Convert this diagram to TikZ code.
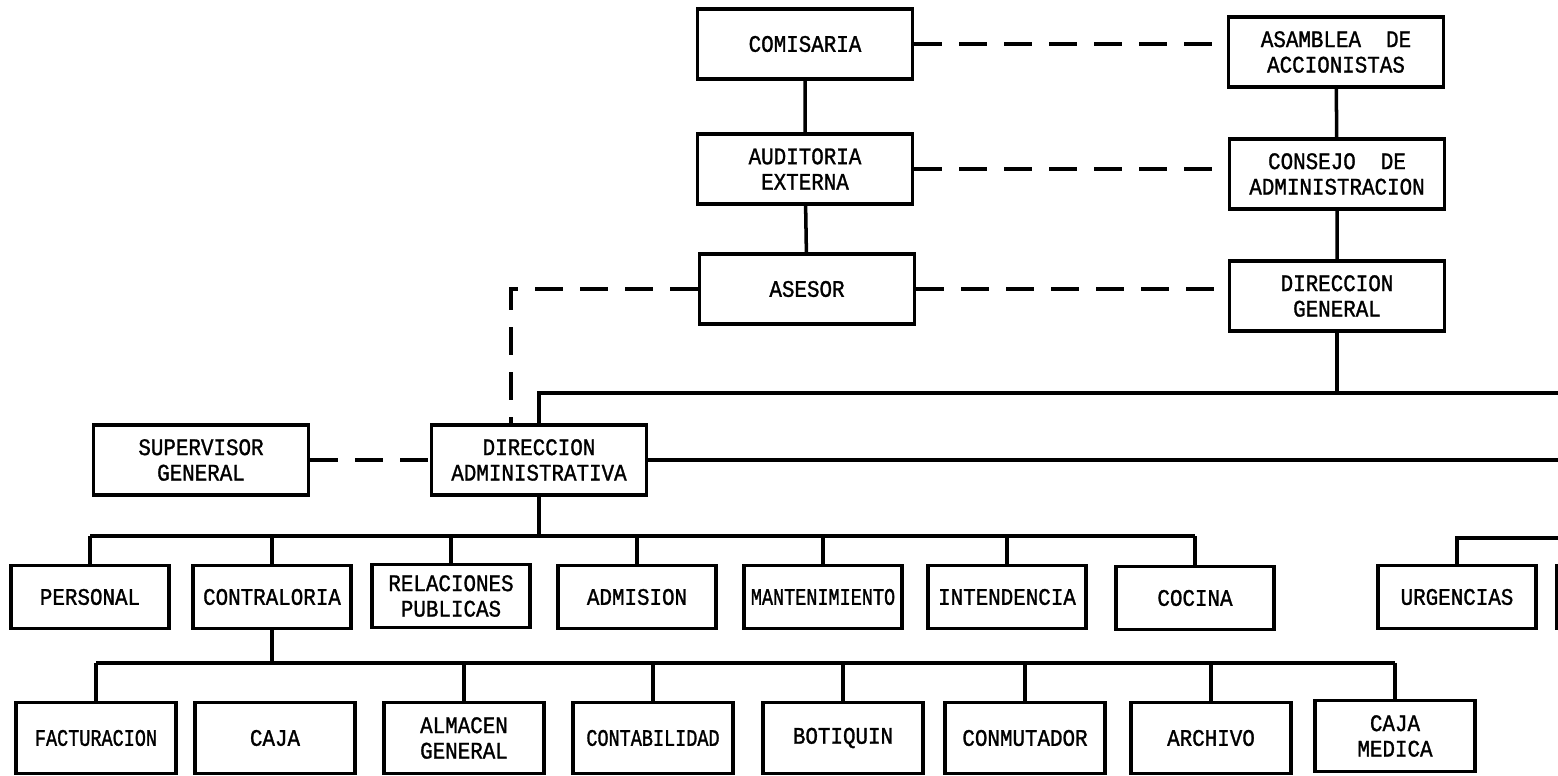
\documentclass[tikz,border=0pt]{standalone}
\usepackage{fontspec}
\setmainfont{Liberation Mono}[FakeStretch=0.88,FakeBold=1.2]
\newfontfamily\estrecha[FakeStretch=0.78,FakeBold=1.2]{Liberation Mono}
\begin{document}
\begin{tikzpicture}[x=0.02cm,y=-0.02cm]
\tikzset{bloque/.style = {draw,
                          shape        = rectangle,
                          line width   = 2pt,
                          align        = center,
                          inner sep    = 0pt,
                          font         = \fontsize{13.5}{14.5}\selectfont},
         grande/.style = {bloque, minimum width=4.3cm,  minimum height=1.4cm},
         medio/.style  = {bloque, minimum width=3.16cm, minimum height=1.26cm},
         chico/.style  = {bloque, minimum width=3.2cm,  minimum height=1.42cm},
         linea/.style  = {line width=2pt},
         trazo/.style  = {line width=2pt, dash pattern=on 0.55cm off 0.35cm}}
\useasboundingbox (0,0) rectangle (1558,776);
\clip (0,0) rectangle (1558,776);
\coordinate (e1)   at (1558,393);
\coordinate (e3)   at (1558,538);
\coordinate (busA) at (0,536);
\coordinate (busB) at (0,663);
% organos de gobierno
\node[grande] (com)  at (805,44)  {COMISARIA};
\node[grande] (asam) at (1336,52) {ASAMBLEA\ \ DE\\ACCIONISTAS};
\node[grande] (aud)  at (805,169) {AUDITORIA\\EXTERNA};
\node[grande] (cons) at (1337,174) {CONSEJO\ \ DE\\ADMINISTRACION};
\node[grande] (ase)  at (807,289) {ASESOR};
\node[grande] (dg)   at (1337,296) {DIRECCION\\GENERAL};
\node[grande] (sup)  at (201,460) {SUPERVISOR\\GENERAL};
\node[grande] (da)   at (539,460) {DIRECCION\\ADMINISTRATIVA};
% departamentos
\node[medio] (per)   at (90,597)   {PERSONAL};
\node[medio] (contr) at (272,597)  {CONTRALORIA};
\node[medio] (rp)    at (451,596)  {RELACIONES\\PUBLICAS};
\node[medio] (adm)   at (637,597)  {ADMISION};
\node[medio] (mant)  at (823,597)  {\estrecha MANTENIMIENTO};
\node[medio] (inte)  at (1007,597) {INTENDENCIA};
\node[medio] (coc)   at (1195,598) {COCINA};
\node[medio] (urg)   at (1457,597) {URGENCIAS};
\node[medio] (otro)  at (1636,597) {};
% secciones de contraloria
\node[chico] (fac)   at (96,738)   {\estrecha FACTURACION};
\node[chico] (caja)  at (275,738)  {CAJA};
\node[chico] (alm)   at (464,738)  {ALMACEN\\GENERAL};
\node[chico] (cont)  at (653,738)  {\estrecha CONTABILIDAD};
\node[chico] (bot)   at (843,738)  {BOTIQUIN};
\node[chico] (conm)  at (1025,738) {CONMUTADOR};
\node[chico] (arch)  at (1211,738) {ARCHIVO};
\node[chico] (cmed)  at (1395,736) {CAJA\\MEDICA};
% lineas de autoridad
\draw[linea] (com) -- (aud) -- (ase);
\draw[linea] (asam) -- (cons) -- (dg);
\draw[linea] (dg) -- (dg.south |- e1);
\draw[linea] (da.north) |- (e1);
\draw[linea] (da.east) -- (da.east -| e1);
\draw[linea] (urg.north) |- (e3);
% lineas de asesoria
\draw[trazo] (com.east) -- (com.east -| asam.west);
\draw[trazo] (aud.east) -- (aud.east -| cons.west);
\draw[trazo] (ase.east) -- (ase.east -| dg.west);
\draw[trazo] (ase.west) -| ([xshift=-0.56cm]da.north);
\draw[trazo] (sup) -- (da);
% ramas
\draw[linea] (da.south) -- (da.south |- busA);
\draw[linea] (per.north |- busA) -- (coc.north |- busA);
\foreach \n in {per,contr,rp,adm,mant,inte,coc}
  \draw[linea] (\n.north) -- (\n.north |- busA);
\draw[linea] (contr.south) -- (contr.south |- busB);
\draw[linea] (fac.north |- busB) -- (cmed.north |- busB);
\foreach \n in {fac,alm,cont,bot,conm,arch,cmed}
  \draw[linea] (\n.north) -- (\n.north |- busB);
\end{tikzpicture}
\end{document}
